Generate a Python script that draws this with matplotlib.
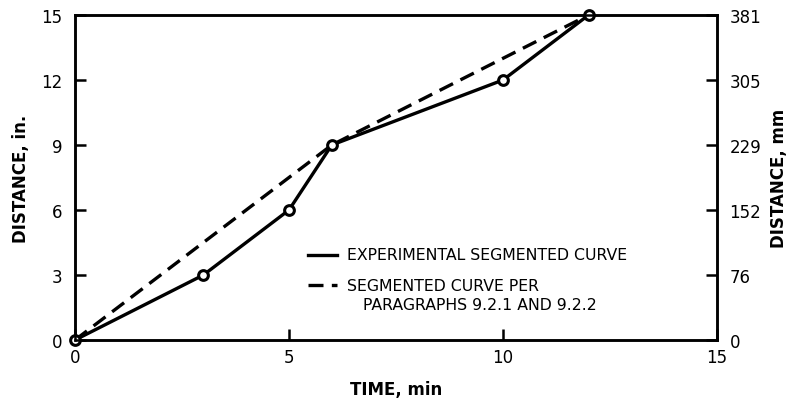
import matplotlib
matplotlib.use("Agg")
import matplotlib.pyplot as plt
from matplotlib.lines import Line2D

plt.rcParams['font.family'] = ['DejaVu Sans']

# Data
exp_time = [0, 3, 5, 6, 10, 12]
exp_dist = [0, 3, 6, 9, 12, 15]
seg_time = [0, 6, 12]
seg_dist = [0, 9, 15]
x_ticks = [0, 5, 10, 15]
y_ticks = [0, 3, 6, 9, 12, 15]
mm_labels = ["0", "76", "152", "229", "305", "381"]

fig = plt.figure(figsize=(7.9, 4.02), dpi=100)
ax = fig.add_axes([0.0949, 0.1517, 0.8127, 0.8085])

lw = 2.4
ax.plot(seg_time, seg_dist, color='black', lw=lw, dashes=(4.5, 2.5), zorder=2)
ax.plot(exp_time, exp_dist, color='black', lw=lw, zorder=3)
ax.plot(exp_time, exp_dist, linestyle='none', marker='o', markersize=7,
        markerfacecolor='white', markeredgecolor='black', markeredgewidth=2.2,
        zorder=4, clip_on=False)

ax.set_xlim(0, 15)
ax.set_ylim(0, 15)
ax.set_xticks(x_ticks)
ax.set_yticks(y_ticks)
ax.tick_params(axis='both', which='both', direction='in', length=8, width=1.8,
               labelsize=12, colors='black')
ax.tick_params(axis='x', pad=6)
ax.tick_params(axis='y', pad=9)
for s in ax.spines.values():
    s.set_linewidth(1.8)

ax2 = ax.twinx()
ax2.set_ylim(0, 15)
ax2.set_yticks(y_ticks)
ax2.set_yticklabels(mm_labels)
ax2.tick_params(axis='y', which='both', direction='in', length=8, width=1.8,
                labelsize=12, pad=9)
for s in ax2.spines.values():
    s.set_linewidth(1.8)

ax.set_xlabel('TIME, min', fontsize=12, fontweight='bold', labelpad=10)
ax.set_ylabel('DISTANCE, in.', fontsize=12, fontweight='bold', labelpad=8)
ax2.set_ylabel('DISTANCE, mm', fontsize=12, fontweight='bold', labelpad=6)

# Manual legend
ax.add_line(Line2D([0.363, 0.408], [0.262, 0.262], transform=ax.transAxes,
                   color='black', lw=lw))
ax.add_line(Line2D([0.363, 0.408], [0.168, 0.168], transform=ax.transAxes,
                   color='black', lw=lw, dashes=(4.5, 2.5)))
ax.text(0.424, 0.262, 'EXPERIMENTAL SEGMENTED CURVE', transform=ax.transAxes,
        va='center', ha='left', fontsize=11.3)
ax.text(0.424, 0.168, 'SEGMENTED CURVE PER', transform=ax.transAxes,
        va='center', ha='left', fontsize=11.3)
ax.text(0.449, 0.108, 'PARAGRAPHS 9.2.1 AND 9.2.2', transform=ax.transAxes,
        va='center', ha='left', fontsize=11.3)

fig.savefig('out.png', dpi=100)
